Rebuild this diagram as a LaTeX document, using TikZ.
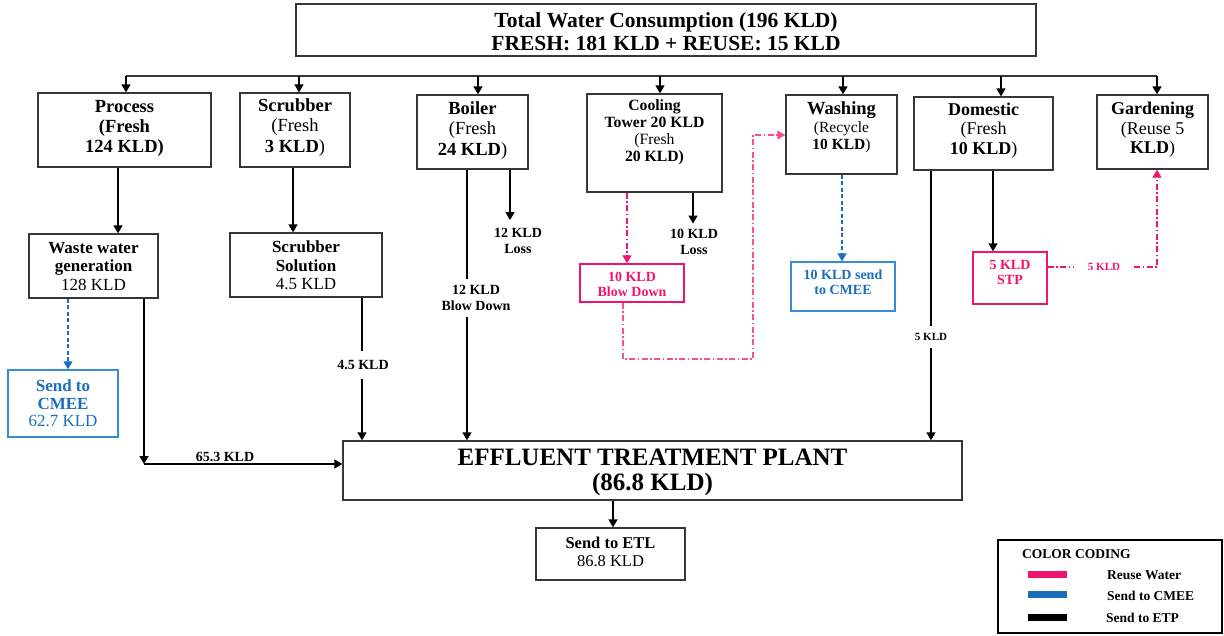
\documentclass[tikz,border=0pt]{standalone}
\usepackage{fontspec}
\setmainfont{Liberation Serif}
\usetikzlibrary{arrows.meta}
\definecolor{reuse}{RGB}{240,20,110}
\definecolor{reuselt}{RGB}{248,80,145}
\definecolor{cmee}{RGB}{25,110,190}
\definecolor{cmeebox}{RGB}{55,140,210}
\definecolor{frame}{RGB}{55,55,55}
\newcommand\fsz[2]{\fontsize{#1}{#2}\selectfont}

\begin{document}
\begin{tikzpicture}[x=1pt,y=-1pt,
  box/.style={draw=frame, line width=1.3pt, inner sep=0pt},
  pbox/.style={draw=reuse, line width=1.4pt, inner sep=0pt},
  bbox/.style={draw=cmeebox, line width=1.4pt, inner sep=0pt},
  txt/.style={inner sep=0pt, align=center},
  lbl/.style={inner sep=0pt, align=center, font=\fsz{14}{16}\bfseries},
  tip/.style={-{Triangle[length=8pt,width=9pt]}},
  flow/.style={draw=black, line width=1.5pt},
  bus/.style={draw=frame, line width=1.8pt},
  reusefl/.style={draw=reuse, line width=1.3pt, dash pattern=on 6pt off 2.5pt on 1.5pt off 2.5pt},
  reuselt/.style={draw=reuselt, line width=1.1pt, dash pattern=on 6pt off 2.5pt on 1.5pt off 2.5pt},
  cmeefl/.style={draw=cmee, line width=1.3pt, dash pattern=on 4pt off 2.5pt},
]
\useasboundingbox (0,0) rectangle (1224,635);

% ---------- boxes ----------
\node[box, minimum width=740pt, minimum height=52pt] (total)  at (666,30) {};
\node[box, minimum width=173pt, minimum height=74pt] (proc)   at (124.5,130) {};
\node[box, minimum width=110pt, minimum height=74pt] (scrub)  at (295,130) {};
\node[box, minimum width=111pt, minimum height=74pt] (boiler) at (472.5,132) {};
\node[box, minimum width=135pt, minimum height=98pt] (cool)   at (654.5,143) {};
\node[box, minimum width=111pt, minimum height=79pt] (wash)   at (841.5,134.5) {};
\node[box, minimum width=139pt, minimum height=73pt] (dom)    at (983.5,133.5) {};
\node[box, minimum width=111pt, minimum height=74pt] (garden) at (1152.5,132) {};
\node[box, minimum width=129pt, minimum height=64pt] (waste)  at (93.5,266) {};
\node[box, minimum width=152pt, minimum height=64pt] (ssol)   at (306,265) {};
\node[pbox, minimum width=104pt, minimum height=38pt] (blow)  at (632,283) {};
\node[bbox, minimum width=104pt, minimum height=49pt] (cmeeb) at (843,286.5) {};
\node[pbox, minimum width=74pt, minimum height=52pt] (stp)    at (1010,278) {};
\node[bbox, minimum width=110pt, minimum height=67pt] (cmeea) at (63,403.5) {};
\node[box, minimum width=619pt, minimum height=59pt] (etp)    at (652.5,470.5) {};
\node[box, minimum width=149pt, minimum height=52pt] (etl)    at (610.5,554) {};

% ---------- box texts ----------
\node[txt, font=\fsz{21.5}{23}\bfseries] (total-t) at (666,31.5)
  {Total Water Consumption (196 KLD)\\FRESH: 181 KLD + REUSE: 15 KLD};
\node[txt, font=\fsz{18.5}{20}\bfseries] (proc-t) at (124.5,128) {Process\\(Fresh\\124 KLD)};
\node[txt, font=\fsz{18.5}{20.5}] (scrub-t) at (295,127.5) {\textbf{Scrubber}\\(Fresh\\\textbf{3 KLD})};
\node[txt, font=\fsz{18.5}{20.5}] (boiler-t) at (472.5,130.5) {\textbf{Boiler}\\(Fresh\\\textbf{24 KLD})};
\node[txt, font=\fsz{15.7}{17}] (cool-t) at (654.5,132.5)
  {\textbf{Cooling}\\\textbf{Tower 20 KLD}\\(Fresh\\\textbf{20 KLD)}};
\node[txt, font=\fsz{15.5}{17.5}] (wash-t) at (841.5,127.5)
  {{\fsz{18.5}{18.5}\bfseries Washing}\\(Recycle\\\textbf{10 KLD})};
\node[txt, font=\fsz{18}{19.5}] (dom-t) at (983.5,130.5) {\textbf{Domestic}\\(Fresh\\\textbf{10 KLD})};
\node[txt, font=\fsz{18}{19.5}] (garden-t) at (1152.5,130) {\textbf{Gardening}\\(Reuse 5\\\textbf{KLD})};
\node[txt, font=\fsz{17}{18.5}] (waste-t) at (93.5,266.5) {\textbf{Waste water}\\\textbf{generation}\\128 KLD};
\node[txt, font=\fsz{17}{18.5}] (ssol-t) at (306,265.5) {\textbf{Scrubber}\\\textbf{Solution}\\4.5 KLD};
\node[txt, font=\fsz{14}{15}\bfseries, text=reuse] (blow-t) at (632,284.5) {10 KLD\\Blow Down};
\node[txt, font=\fsz{14}{15}\bfseries, text=cmee] (cmeeb-t) at (843,282.5) {10 KLD send\\to CMEE};
\node[txt, font=\fsz{14}{15}\bfseries, text=reuse] (stp-t) at (1010,272.5) {5 KLD\\STP};
\node[txt, font=\fsz{17}{17.5}, text=cmee] (cmeea-t) at (63,403.5) {\textbf{Send to}\\\textbf{CMEE}\\62.7 KLD};
\node[txt, font=\fsz{25}{25}\bfseries] (etp-t) at (652.5,472.5) {EFFLUENT TREATMENT PLANT\\(86.8 KLD)};
\node[txt, font=\fsz{16.5}{18}] (etl-t) at (610.5,552) {\textbf{Send to ETL}\\86.8 KLD};

% ---------- flow labels ----------
\node[lbl, inner ysep=6pt] (bdl) at (476,298) {12 KLD\\Blow Down};
\node[lbl, inner ysep=8pt] (loss1) at (518,241) {12 KLD\\Loss};
\node[lbl, inner ysep=5pt] (loss2) at (694,241.5) {10 KLD\\Loss};
\node[lbl, inner ysep=9pt] (l45) at (363,365) {4.5 KLD};
\node[lbl] (l653) at (225,457) {65.3 KLD};
\node[lbl, font=\fsz{11}{12}\bfseries, inner ysep=7pt] (l5a) at (931,337) {5 KLD};
\node[lbl, font=\fsz{11}{12}\bfseries, text=reuse, inner xsep=14pt] (l5b) at (1104,267) {5 KLD};

% ---------- distribution bus ----------
\coordinate (bL) at (126,76);
\coordinate (bR) at (1157,76);
\draw[bus] (bL) -- (bR);
\foreach \bx/\target in {126/proc, 299/scrub, 478/boiler, 660/cool, 843/wash, 1001/dom, 1157/garden}{
  \coordinate (tap) at (\bx,76);
  \draw[flow, tip] (tap) -- (tap |- \target.north);
}

% ---------- process line ----------
\coordinate (xp) at (118,0);
\draw[flow, tip] (xp |- proc.south) -- (xp |- waste.north);
\coordinate (xc) at (68,0);
\draw[cmeefl, tip] (xc |- waste.south) -- (xc |- cmeea.north);
\coordinate (xw) at (144,0);
\coordinate (wcorner) at (144,464);
\draw[flow, tip] (xw |- waste.south) -- (wcorner);
\draw[flow, tip] (wcorner) -- (wcorner -| etp.west);

% ---------- scrubber line ----------
\coordinate (xs) at (293,0);
\draw[flow, tip] (xs |- scrub.south) -- (xs |- ssol.north);
\coordinate (xs2) at (362,0);
\draw[flow] (xs2 |- ssol.south) -- (xs2 |- l45.north);
\draw[flow, tip] (xs2 |- l45.south) -- (xs2 |- etp.north);

% ---------- boiler line ----------
\coordinate (xb) at (467,0);
\draw[flow] (xb |- boiler.south) -- (xb |- bdl.north);
\draw[flow, tip] (xb |- bdl.south) -- (xb |- etp.north);
\coordinate (xl) at (510,0);
\draw[flow, tip] (xl |- boiler.south) -- (xl |- loss1.north);

% ---------- cooling tower line ----------
\coordinate (xct) at (627,0);
\draw[reusefl, tip] (xct |- cool.south) -- (xct |- blow.north);
\coordinate (xcl) at (693,0);
\draw[flow, tip] (xcl |- cool.south) -- (xcl |- loss2.north);
\coordinate (r1) at (623,359);
\coordinate (r2) at (753,359);
\coordinate (r3) at (753,135);
\draw[reuselt, tip] (r1 |- blow.south) -- (r1) -- (r2) -- (r3) -- (r3 -| wash.west);

% ---------- washing line ----------
\coordinate (xwa) at (842,0);
\draw[cmeefl, tip] (xwa |- wash.south) -- (xwa |- cmeeb.north);

% ---------- domestic line ----------
\coordinate (xd) at (931,0);
\draw[flow] (xd |- dom.south) -- (xd |- l5a.north);
\draw[flow, tip] (xd |- l5a.south) -- (xd |- etp.north);
\coordinate (xd2) at (993,0);
\draw[flow, tip] (xd2 |- dom.south) -- (xd2 |- stp.north);
\coordinate (gx) at (1157,267);
\draw[reusefl] (stp.east |- gx) -- (l5b.west);
\draw[reusefl, tip] (l5b.east) -- (gx) -- (gx |- garden.south);

% ---------- ETP to ETL ----------
\coordinate (xe) at (613,0);
\draw[flow, tip] (xe |- etp.south) -- (xe |- etl.north);

% ---------- legend ----------
\node[draw=black, line width=1.3pt, minimum width=224pt, minimum height=93pt, inner sep=0pt] (legend) at (1110,586.5) {};
\node[anchor=west, inner sep=0pt, font=\fsz{13.5}{14}\bfseries] (lg-t) at (1022,554) {COLOR CODING};
\fill[reuse] (1028,571) rectangle (1067,578);
\fill[cmee] (1028,591) rectangle (1067,598);
\fill[black] (1028,614) rectangle (1067,621);
\node[anchor=west, inner sep=0pt, font=\fsz{13.5}{14}\bfseries] (lg-a) at (1107,575) {Reuse Water};
\node[anchor=west, inner sep=0pt, font=\fsz{13.5}{14}\bfseries] (lg-b) at (1107,595.5) {Send to CMEE};
\node[anchor=west, inner sep=0pt, font=\fsz{13.5}{14}\bfseries] (lg-c) at (1106,617.5) {Send to ETP};
\end{tikzpicture}
\end{document}
